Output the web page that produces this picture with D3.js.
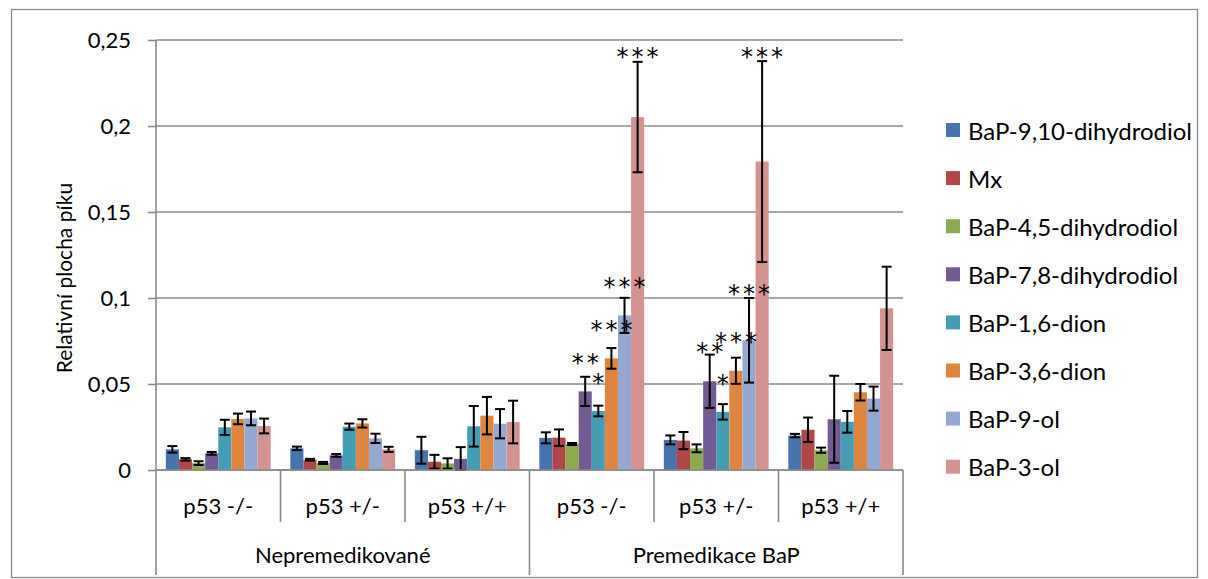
<!DOCTYPE html>
<html>
<head>
<meta charset="utf-8">
<script src="https://cdn.jsdelivr.net/npm/d3@7/dist/d3.min.js"></script>
<style>
  html, body { margin: 0; padding: 0; background: #ffffff; }
  svg text { font-family: Lato, "Open Sans", sans-serif; fill: #000; }
</style>
</head>
<body>
<svg id="chart" width="1208" height="579"></svg>
<script>
// Categories along the x axis, with their two-level grouping
const categories = ["p53 -/-", "p53 +/-", "p53 +/+", "p53 -/-", "p53 +/-", "p53 +/+"];
const groupNames = ["Nepremedikované", "Premedikace BaP"];
const groupSizes = [3, 3];

// Series names and fills
const seriesNames = [
  "BaP-9,10-dihydrodiol", "Mx", "BaP-4,5-dihydrodiol", "BaP-7,8-dihydrodiol",
  "BaP-1,6-dion", "BaP-3,6-dion", "BaP-9-ol", "BaP-3-ol"
];
const seriesColors = ["#4674AE", "#B04645", "#8DAA4F", "#725A93", "#439DB5", "#E0853E", "#93A9D2", "#D49391"];

// Mean relative peak area per category
const bap910Diol = [0.0120, 0.0126, 0.0115, 0.0187, 0.0175, 0.0200];
const mx         = [0.0062, 0.0060, 0.0048, 0.0188, 0.0171, 0.0234];
const bap45Diol  = [0.0040, 0.0041, 0.0038, 0.0151, 0.0126, 0.0115];
const bap78Diol  = [0.0097, 0.0085, 0.0065, 0.0457, 0.0516, 0.0295];
const bap16Dion  = [0.0248, 0.0252, 0.0254, 0.0343, 0.0338, 0.0280];
const bap36Dion  = [0.0297, 0.0271, 0.0316, 0.0649, 0.0577, 0.0452];
const bap9ol     = [0.0300, 0.0184, 0.0269, 0.0899, 0.0754, 0.0415];
const bap3ol     = [0.0256, 0.0120, 0.0279, 0.2052, 0.1793, 0.0940];

// Error bar half-widths (same order)
const bap910DiolErr = [0.0019, 0.0010, 0.0078, 0.0032, 0.0026, 0.0010];
const mxErr         = [0.0007, 0.0005, 0.0040, 0.0048, 0.0050, 0.0071];
const bap45DiolErr  = [0.0011, 0.0006, 0.0030, 0.0006, 0.0023, 0.0015];
const bap78DiolErr  = [0.0008, 0.0008, 0.0068, 0.0085, 0.0155, 0.0253];
const bap16DionErr  = [0.0044, 0.0018, 0.0118, 0.0031, 0.0045, 0.0063];
const bap36DionErr  = [0.0031, 0.0024, 0.0109, 0.0060, 0.0076, 0.0048];
const bap9olErr     = [0.0040, 0.0027, 0.0085, 0.0102, 0.0246, 0.0070];
const bap3olErr     = [0.0043, 0.0015, 0.0124, 0.0321, 0.0584, 0.0242];

// Significance marks: category index, series index, text, level where the mark sits
const sigCategory = [3, 3, 3, 3, 3, 4, 4, 4, 4, 4];
const sigSeries   = [3, 4, 5, 6, 7, 3, 4, 5, 6, 7];
const sigText     = ["**", "*", "***", "***", "***", "**", "*", "***", "***", "***"];
const sigLevel    = [0.0645, 0.0529, 0.0837, 0.1087, 0.2424, 0.0709, 0.0523, 0.0767, 0.1047, 0.2426];

// Y axis ticks
const yTicks = [0, 0.05, 0.1, 0.15, 0.2, 0.25];
const yTickLabels = ["0", "0,05", "0,1", "0,15", "0,2", "0,25"];
const yTitle = "Relativní plocha píku";

const seriesValues = [bap910Diol, mx, bap45Diol, bap78Diol, bap16Dion, bap36Dion, bap9ol, bap3ol];
const seriesErrors = [bap910DiolErr, mxErr, bap45DiolErr, bap78DiolErr, bap16DionErr, bap36DionErr, bap9olErr, bap3olErr];

const svg = d3.select("#chart");
const gridColor = "#8A8A8A";

// Outer frame
svg.append("rect")
  .attr("x", 11.5).attr("y", 9.5).attr("width", 1186).attr("height", 568)
  .attr("fill", "none").attr("stroke", gridColor).attr("stroke-width", 1.3);

const plot = { left: 156, right: 903, top: 40, bottom: 470 };

const x = d3.scaleBand()
  .domain(d3.range(categories.length))
  .range([plot.left, plot.right])
  .padding(0);

// Bars with a 150% gap between clusters
const gapRatio = 1.5;
const barW = x.bandwidth() / (seriesNames.length + gapRatio);
const xs = d3.scaleBand()
  .domain(d3.range(seriesNames.length))
  .range([barW * gapRatio / 2, x.bandwidth() - barW * gapRatio / 2])
  .padding(0);

const y = d3.scaleLinear().domain([0, 0.25]).range([plot.bottom, plot.top]);

// Horizontal gridlines
svg.append("g").selectAll("line")
  .data(yTicks)
  .join("line")
  .attr("x1", plot.left).attr("x2", plot.right)
  .attr("y1", d => y(d)).attr("y2", d => y(d))
  .attr("stroke", gridColor).attr("stroke-width", 1.6);

// Y axis
const yAxis = d3.axisLeft(y)
  .tickValues(yTicks)
  .tickFormat((d, i) => yTickLabels[i])
  .tickSize(8)
  .tickPadding(17);
const yAxisG = svg.append("g")
  .attr("transform", `translate(${plot.left},0)`)
  .call(yAxis);
yAxisG.select(".domain").remove();
yAxisG.selectAll(".tick line").attr("stroke", gridColor).attr("stroke-width", 1.6);
yAxisG.selectAll(".tick text")
  .style("font-family", "Lato, sans-serif")
  .style("font-size", "22px")
  .attr("fill", "#000");

svg.append("line")
  .attr("x1", plot.left).attr("x2", plot.left)
  .attr("y1", plot.top).attr("y2", plot.bottom)
  .attr("stroke", gridColor).attr("stroke-width", 1.6);

// Y axis title
svg.append("text")
  .attr("transform", "translate(63,278) rotate(-90)")
  .attr("text-anchor", "middle")
  .attr("dominant-baseline", "central")
  .style("font-size", "21px")
  .text(yTitle);

// Bars
const barData = [];
seriesValues.forEach((vals, s) => {
  vals.forEach((v, c) => barData.push({ s, c, v, e: seriesErrors[s][c] }));
});

svg.append("g").selectAll("rect")
  .data(barData)
  .join("rect")
  .attr("x", d => x(d.c) + xs(d.s))
  .attr("width", xs.bandwidth())
  .attr("y", d => y(d.v))
  .attr("height", d => y(0) - y(d.v))
  .attr("fill", d => seriesColors[d.s]);

// Error bars
const capW = 10;
const eb = svg.append("g").attr("stroke", "#000").attr("stroke-width", 2);
barData.forEach(d => {
  const cx = x(d.c) + xs(d.s) + xs.bandwidth() / 2;
  const lo = Math.max(0, d.v - d.e), hi = d.v + d.e;
  eb.append("line").attr("x1", cx).attr("x2", cx).attr("y1", y(lo)).attr("y2", y(hi));
  eb.append("line").attr("x1", cx - capW / 2).attr("x2", cx + capW / 2).attr("y1", y(hi)).attr("y2", y(hi));
  eb.append("line").attr("x1", cx - capW / 2).attr("x2", cx + capW / 2).attr("y1", y(lo)).attr("y2", y(lo));
});

// Significance marks
const starSpacing = 3;
svg.append("g").selectAll("text")
  .data(sigText.map((t, i) => ({ t, c: sigCategory[i], s: sigSeries[i], v: sigLevel[i] })))
  .join("text")
  .attr("x", d => x(d.c) + xs(d.s) + xs.bandwidth() / 2 + starSpacing / 2)
  .attr("y", d => y(d.v) + 12)
  .attr("text-anchor", "middle")
  .style("font-family", "'DejaVu Sans', sans-serif")
  .style("font-size", "24px")
  .style("letter-spacing", `${starSpacing}px`)
  .text(d => d.t);

// Category axis: baseline, separators, labels
svg.append("line")
  .attr("x1", plot.left).attr("x2", plot.right)
  .attr("y1", plot.bottom).attr("y2", plot.bottom)
  .attr("stroke", gridColor).attr("stroke-width", 1.6);

const groupStarts = groupSizes.map((n, i) => d3.sum(groupSizes.slice(0, i)));
const groupEdges = new Set([...groupStarts, categories.length]);
const sepData = d3.range(categories.length + 1);
svg.append("g").selectAll("line")
  .data(sepData)
  .join("line")
  .attr("x1", i => i < categories.length ? x(i) : plot.right)
  .attr("x2", i => i < categories.length ? x(i) : plot.right)
  .attr("y1", plot.bottom)
  .attr("y2", i => groupEdges.has(i) ? 575 : 522)
  .attr("stroke", gridColor).attr("stroke-width", 1.6);

svg.append("g").selectAll("text")
  .data(categories)
  .join("text")
  .attr("x", (d, i) => x(i) + x.bandwidth() / 2)
  .attr("y", 505)
  .attr("text-anchor", "middle")
  .attr("dominant-baseline", "central")
  .style("font-size", "22px")
  .text(d => d);

svg.append("g").selectAll("text")
  .data(groupNames)
  .join("text")
  .attr("x", (d, i) => (x(groupStarts[i]) + (groupStarts[i] + groupSizes[i] < categories.length ? x(groupStarts[i] + groupSizes[i]) : plot.right)) / 2)
  .attr("y", 554)
  .attr("text-anchor", "middle")
  .attr("dominant-baseline", "central")
  .style("font-size", "22px")
  .text(d => d);

// Legend
const legend = svg.append("g").attr("transform", "translate(946,130)");
const rowH = 48.1;
seriesNames.forEach((name, i) => {
  const g = legend.append("g").attr("transform", `translate(0,${i * rowH})`);
  g.append("rect").attr("x", 0).attr("y", -7).attr("width", 14).attr("height", 14).attr("fill", seriesColors[i]);
  g.append("text").attr("x", 22).attr("y", 0)
    .attr("dominant-baseline", "central")
    .style("font-size", "24px")
    .text(name);
});
</script>
</body>
</html>
